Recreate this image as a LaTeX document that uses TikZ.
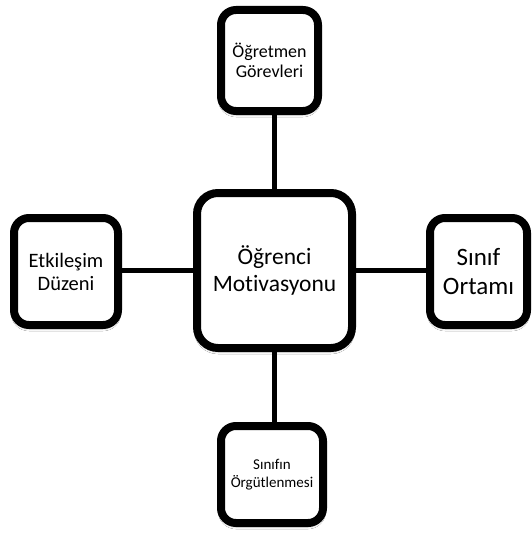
\documentclass[tikz,border=0pt]{standalone}
\usepackage{fontspec}
\setmainfont{Carlito}[Ligatures=NoCommon]
\usetikzlibrary{backgrounds,shadows.blur}
\begin{document}
\begin{tikzpicture}[x=1pt,y=-1pt,
  box/.style={draw=black, line width=8pt, fill=white, align=center,
    inner sep=0pt, text=black, rounded corners=15pt,
    blur shadow={shadow xshift=0pt, shadow yshift=-3pt, shadow blur radius=3pt, shadow opacity=35}},
  conn/.style={draw=black, line width=4.5pt}]
\useasboundingbox (0,0) rectangle (531,535);
\node[box, rounded corners=21pt, minimum width=155pt, minimum height=155pt,
  font=\fontsize{23.5}{26.5}\selectfont] (c) at (274.5,270.5) {Öğrenci\\Motivasyonu};
\node[box, minimum width=97pt, minimum height=101pt,
  font=\fontsize{18}{20.5}\selectfont] (t) at (269.5,60.5) {Öğretmen\\Görevleri};
\node[box, minimum width=104pt, minimum height=107pt,
  font=\fontsize{20.5}{23}\selectfont] (l) at (66,271.5) {Etkileşim\\Düzeni};
\node[box, minimum width=97pt, minimum height=107pt,
  font=\fontsize{25}{29}\selectfont] (r) at (478.5,271.5) {Sınıf\\Ortamı};
\node[box, minimum width=102pt, minimum height=97pt,
  font=\fontsize{15}{17.5}\selectfont] (b) at (272,474.5) {Sınıfın\\Örgütlenmesi};
\begin{scope}[on background layer]
  \fill[white] (0,0) rectangle (531,535);
  \draw[conn] (c.north) -- (c.north |- t.south);
  \draw[conn] (c.south) -- (c.south |- b.north);
  \draw[conn] (c.west) -- (c.west -| l.east);
  \draw[conn] (c.east) -- (c.east -| r.west);
\end{scope}
\end{tikzpicture}
\end{document}
